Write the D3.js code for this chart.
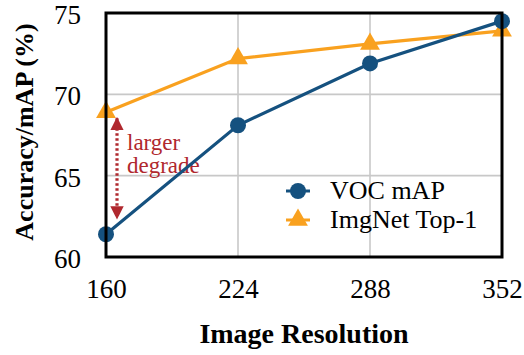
<!DOCTYPE html>
<html><head><meta charset="utf-8">
<script src="https://cdn.jsdelivr.net/npm/d3@7"></script>
<style>body{margin:0;background:#fff}</style>
</head><body>
<svg id="c" width="524" height="355" font-family="Liberation Serif"></svg>
<script>
const resolutions = [160, 224, 288, 352];
const vocMAP = [61.4, 68.1, 71.9, 74.5];
const imgNetTop1 = [68.9, 72.2, 73.1, 73.9];
const yTicks = [60, 65, 70, 75];
const seriesNames = ["VOC mAP", "ImgNet Top-1"];

const svg = d3.select("#c");
const L = 106, R = 502, T = 13, B = 257;
const x = d3.scaleLinear().domain([160, 352]).range([L, R]);
const y = d3.scaleLinear().domain([60, 75]).range([B, T]);
const blue = "#15517f", orange = "#f9a11f", red = "#b0282e";
const FF = "Liberation Serif";

// grid
svg.append("g").selectAll("line").data(yTicks).join("line")
  .attr("x1", L).attr("x2", R).attr("y1", d => y(d)).attr("y2", d => y(d))
  .attr("stroke", "#c8c8c8").attr("stroke-width", 1.6);
svg.append("g").selectAll("line").data(resolutions).join("line")
  .attr("x1", d => x(d)).attr("x2", d => x(d)).attr("y1", T).attr("y2", B)
  .attr("stroke", "#c8c8c8").attr("stroke-width", 1.6);

// axes tick labels via d3 axes
const ax = svg.append("g").attr("transform", `translate(0,${B})`)
  .call(d3.axisBottom(x).tickValues(resolutions).tickSize(0).tickPadding(22));
ax.attr("font-family", FF).attr("font-size", 27);
ax.select(".domain").remove();
ax.selectAll("text").attr("font-family", FF).attr("font-size", 27).attr("fill", "#000");
const ay = svg.append("g").attr("transform", `translate(${L},2)`)
  .call(d3.axisLeft(y).tickValues(yTicks).tickSize(0).tickPadding(25));
ay.attr("font-family", FF).attr("font-size", 27);
ay.select(".domain").remove();
ay.selectAll("text").attr("font-family", FF).attr("font-size", 27).attr("fill", "#000");

// axis titles
svg.append("text").attr("x", 304).attr("y", 343).attr("text-anchor", "middle")
  .attr("font-family", FF).attr("font-weight", "bold").attr("font-size", 28).text("Image Resolution");
svg.append("text").attr("transform", "translate(33,132) rotate(-90)").attr("text-anchor", "middle")
  .attr("font-family", FF).attr("font-weight", "bold").attr("font-size", 26).text("Accuracy/mAP (%)");

// annotation arrow
const ax0 = x(160) + 11;
const defs = svg.append("defs");
defs.append("marker").attr("id", "ah").attr("viewBox", "0 0 10 10").attr("refX", 9).attr("refY", 5)
  .attr("markerWidth", 4.2).attr("markerHeight", 4.2).attr("orient", "auto-start-reverse")
  .attr("markerUnits", "strokeWidth")
  .append("path").attr("d", "M0,0 L10,5 L0,10 z").attr("fill", red);
svg.append("line").attr("x1", ax0).attr("x2", ax0)
  .attr("y1", y(imgNetTop1[0]) + 6).attr("y2", y(vocMAP[0]) - 16)
  .attr("stroke", red).attr("stroke-width", 3.2).attr("stroke-dasharray", "2.5,2.5")
  .attr("marker-start", "url(#ah)").attr("marker-end", "url(#ah)");
svg.append("text").attr("x", 127).attr("y", 150).attr("fill", red)
  .attr("font-family", FF).attr("font-size", 23).text("larger");
svg.append("text").attr("x", 127).attr("y", 173).attr("fill", red)
  .attr("font-family", FF).attr("font-size", 23).text("degrade");

// lines
const line = d3.line().x((d, i) => x(resolutions[i])).y(d => y(d));
svg.append("path").datum(imgNetTop1).attr("d", line).attr("fill", "none")
  .attr("stroke", orange).attr("stroke-width", 3.2);
svg.append("path").datum(vocMAP).attr("d", line).attr("fill", "none")
  .attr("stroke", blue).attr("stroke-width", 3.2);

const tri = d3.symbol().type(d3.symbolTriangle).size(170);
svg.append("g").selectAll("path").data(imgNetTop1).join("path")
  .attr("transform", (d, i) => `translate(${x(resolutions[i])},${y(d)})`)
  .attr("d", tri).attr("fill", orange);
svg.append("g").selectAll("circle").data(vocMAP).join("circle")
  .attr("cx", (d, i) => x(resolutions[i])).attr("cy", d => y(d)).attr("r", 8).attr("fill", blue);

// frame
svg.append("rect").attr("x", L).attr("y", T).attr("width", R - L).attr("height", B - T)
  .attr("fill", "none").attr("stroke", "#000").attr("stroke-width", 3);

// legend
const leg = svg.append("g");
const lx = 298, ly = [191, 220];
leg.append("line").attr("x1", lx - 12).attr("x2", lx + 12).attr("y1", ly[0]).attr("y2", ly[0]).attr("stroke", blue).attr("stroke-width", 3);
leg.append("circle").attr("cx", lx).attr("cy", ly[0]).attr("r", 8).attr("fill", blue);
leg.append("line").attr("x1", lx - 12).attr("x2", lx + 12).attr("y1", ly[1]).attr("y2", ly[1]).attr("stroke", orange).attr("stroke-width", 3);
leg.append("path").attr("transform", `translate(${lx},${ly[1]})`).attr("d", tri).attr("fill", orange);
seriesNames.forEach((n, i) => {
  leg.append("text").attr("x", 330).attr("y", ly[i] + 8).attr("font-family", FF).attr("font-size", 26).text(n);
});
</script>
</body></html>
